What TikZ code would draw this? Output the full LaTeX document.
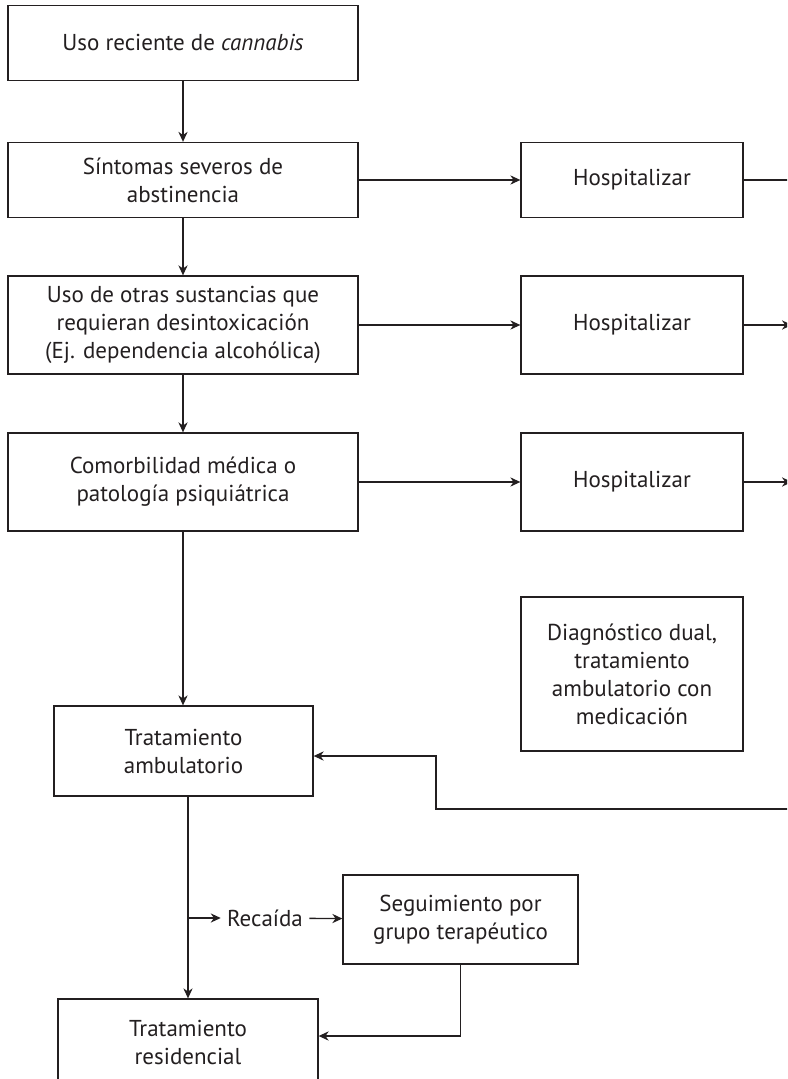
\documentclass[tikz,border=0pt]{standalone}
\usepackage{fontspec}
\setmainfont{PT Sans}
\usetikzlibrary{arrows.meta}
\definecolor{ink}{RGB}{35,31,32}

\begin{document}
\begin{tikzpicture}[x=0.5pt,y=-0.5pt,>={Stealth[length=5pt,width=4.6pt,inset=1.6pt]},
  caja/.style={draw=ink,line width=0.65pt,text=ink,align=center,inner sep=0pt,
    font=\fontsize{11.5}{14}\selectfont,minimum width=175pt,minimum height=37.5pt},
  hosp/.style={caja,minimum width=111pt},
  flecha/.style={->,draw=ink,line width=0.65pt},
  linea/.style={draw=ink,line width=0.65pt}]
\useasboundingbox (0,0) rectangle (787,1079);
\clip (0,0) rectangle (787,1079);

\node[caja] (uso) at (183,43) {Uso reciente de \emph{cannabis}};
\node[caja] (sintomas) at (183,180) {Síntomas severos de\\abstinencia};
\node[caja,minimum height=49pt] (otras) at (183,325) {Uso de otras sustancias que\\requieran desintoxicación\\(Ej. dependencia alcohólica)};
\node[caja,minimum height=49pt] (comorb) at (183,482) {Comorbilidad médica o\\patología psiquiátrica};

\node[hosp] (hospA) at (632,180) {Hospitalizar};
\node[hosp,minimum height=49pt] (hospB) at (632,325) {Hospitalizar};
\node[hosp,minimum height=49pt] (hospC) at (632,482) {Hospitalizar};
\node[hosp,minimum height=77pt] (dual) at (632,674) {Diagnóstico dual,\\tratamiento\\ambulatorio con\\medicación};

\node[caja,minimum width=129.5pt,minimum height=45pt] (ambul) at (183.5,751) {Tratamiento\\ambulatorio};
\node[caja,minimum width=117.5pt,minimum height=44.5pt] (grupo) at (460.5,919.5) {Seguimiento por\\grupo terapéutico};
\node[caja,minimum width=130pt,minimum height=43pt] (resid) at (188,1042) {Tratamiento\\residencial};
\node[text=ink,font=\fontsize{11.5}{14}\selectfont,inner sep=3pt] (recaida) at (265,918) {Recaída};

\coordinate (salA) at (800,180);
\coordinate (salB) at (792,325);
\coordinate (salC) at (792,482);
\coordinate (retorno) at (800,809);
\coordinate (rama) at (188,918);

\draw[flecha] (uso) -- (sintomas);
\draw[flecha] (sintomas) -- (otras);
\draw[flecha] (otras) -- (comorb);
\draw[flecha] (comorb) -- (ambul.north -| comorb.south);
\draw[flecha] (sintomas) -- (hospA);
\draw[flecha] (otras) -- (hospB);
\draw[flecha] (comorb) -- (hospC);
\draw[linea] (hospA) -- (salA);
\draw[flecha] (hospB) -- (salB);
\draw[flecha] (hospC) -- (salC);
\draw[flecha] (retorno) -- (436,809) |- ([yshift=-2.5pt]ambul.east);
\draw[flecha] (ambul.south -| resid.north) -- (resid.north);
\draw[flecha] (rama) -- (recaida);
\draw[flecha] (recaida) -- (grupo);
\draw[flecha] (grupo.south) |- ([yshift=3pt]resid.east);
\end{tikzpicture}
\end{document}
